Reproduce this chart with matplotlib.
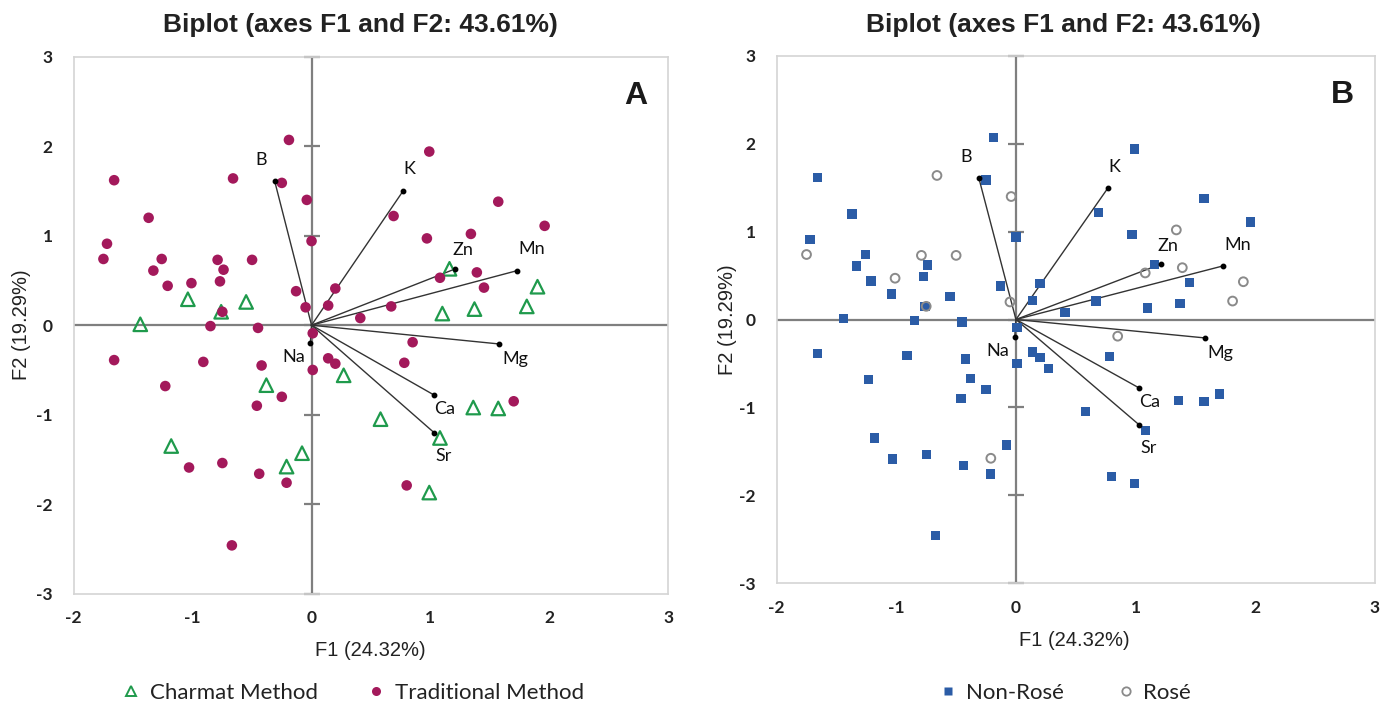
#!/usr/bin/env python3
# PCA biplot of wine element data, two panels: method (A) and rose / non-rose (B)

import numpy as np
import matplotlib
matplotlib.use('Agg')
import matplotlib.pyplot as plt
from matplotlib.lines import Line2D

plt.rcParams['axes.unicode_minus'] = False

# ---------------- data (F1, F2 scores) ----------------
# Charmat method samples
charmat_f1 = [-1.04, -0.55, -0.76, -1.44, 1.16, 1.90, 1.10, 1.37, 1.81, -0.38,
              0.27, 0.58, -1.18, -0.08, -0.21, 1.36, 1.57, 1.08, 0.99]
charmat_f2 = [0.29, 0.26, 0.15, 0.01, 0.63, 0.43, 0.13, 0.18, 0.21, -0.67,
              -0.56, -1.05, -1.35, -1.43, -1.58, -0.92, -0.93, -1.26, -1.87]
charmat_rose = [0, 0, 0, 0, 0, 1, 0, 0, 1, 0,
                0, 0, 0, 0, 1, 0, 0, 0, 0]

# Traditional method samples
trad_f1 = [-0.19, -0.66, -1.66, -0.25, -0.04, -1.37, 0.69, 0.00, -1.72, -1.75,
           -1.26, -0.79, -0.50, -1.33, -0.74, -1.21, -1.01, -0.77, -0.13, 0.20,
           -0.05, 0.14, 0.41, 0.67, -0.75, -0.85, -0.45, 0.01, 0.99, 1.57,
           1.96, 0.97, 1.34, 1.39, 1.08, 1.45, -1.66, -0.91, -0.42, 0.01,
           0.14, 0.20, -1.23, -0.25, -0.46, -1.03, -0.75, -0.44, -0.21, -0.67,
           0.85, 0.78, 1.70, 0.80]
trad_f2 = [2.07, 1.64, 1.62, 1.59, 1.40, 1.20, 1.22, 0.94, 0.91, 0.74,
           0.74, 0.73, 0.73, 0.61, 0.62, 0.44, 0.47, 0.49, 0.38, 0.41,
           0.20, 0.22, 0.08, 0.21, 0.15, -0.01, -0.03, -0.09, 1.94, 1.38,
           1.11, 0.97, 1.02, 0.59, 0.53, 0.42, -0.39, -0.41, -0.45, -0.50,
           -0.37, -0.43, -0.68, -0.80, -0.90, -1.59, -1.54, -1.66, -1.76, -2.46,
           -0.19, -0.42, -0.85, -1.79]
trad_rose = [0, 1, 0, 0, 1, 0, 0, 0, 0, 1,
             0, 1, 1, 0, 0, 0, 1, 0, 0, 0,
             1, 0, 0, 0, 1, 0, 0, 0, 0, 0,
             0, 0, 1, 1, 1, 0, 0, 0, 0, 0,
             0, 0, 0, 0, 0, 0, 0, 0, 0, 0,
             1, 0, 0, 0]

# Variable loadings
var_names = ['B', 'K', 'Zn', 'Mn', 'Mg', 'Ca', 'Sr', 'Na']
var_f1 = [-0.31, 0.77, 1.21, 1.73, 1.58, 1.03, 1.03, -0.01]
var_f2 = [1.61, 1.50, 0.63, 0.61, -0.21, -0.78, -1.20, -0.20]

title_txt = 'Biplot (axes F1 and F2: 43.61%)'
xlab = 'F1 (24.32%)'
ylab = 'F2 (19.29%)'
axis_ticks = [-3, -2, -1, 0, 1, 2, 3]

# label offsets from vector tips (placement only)
lab_off = {'B': (-0.11, 0.24), 'K': (0.05, 0.24), 'Zn': (0.06, 0.21), 'Mn': (0.12, 0.24),
           'Mg': (0.13, -0.17), 'Ca': (0.09, -0.16), 'Sr': (0.08, -0.26), 'Na': (-0.14, -0.16)}

# ---------------- styling ----------------
c_green = '#1f9a4c'
c_maroon = '#a3195b'
c_blue = '#2b5ca6'
c_grey = '#8a8a8a'
c_axis = '#7f7f7f'
c_frame = '#d4d4d4'
tick_font = 'Lato'
lab_font = 'Lato'
arial = 'Liberation Sans'

W, H = 1391, 704
fig = plt.figure(figsize=(W/100, H/100), dpi=100)


def base_axes(rect, letter):
    ax = fig.add_axes(rect)
    ax.set_xlim(-2, 3); ax.set_ylim(-3, 3)
    for s in ax.spines.values():
        s.set_color(c_frame); s.set_linewidth(1.2)
    ax.set_xticks([-2, -1, 0, 1, 2, 3])
    ax.set_yticks(axis_ticks)
    ax.tick_params(axis='x', length=0, pad=12)
    ax.tick_params(axis='y', length=0, pad=15)
    for t in ax.get_xticklabels() + ax.get_yticklabels():
        t.set_fontfamily(tick_font); t.set_fontweight('bold'); t.set_fontsize(12.5)
        t.set_color('#222222')
    # axes through origin
    ax.axhline(0, color=c_axis, lw=1.6, zorder=1)
    ax.axvline(0, color=c_axis, lw=1.6, zorder=1)
    ax.plot(np.zeros(len(axis_ticks)), axis_ticks, ls='none', marker='_', ms=12,
            mew=1.6, color=c_axis, zorder=1, clip_on=False)
    # loading vectors
    for nm, vx, vy in zip(var_names, var_f1, var_f2):
        ax.plot([0, vx], [0, vy], color='#333333', lw=1.0, zorder=2)
        ax.plot(vx, vy, 'o', color='black', ms=3.2, zorder=5)
        dx, dy = lab_off[nm]
        ax.text(vx + dx, vy + dy, nm, fontsize=13, family=lab_font, ha='center', va='center',
                color='#111111', zorder=6)
    ax.text(0.965, 0.955, letter, transform=ax.transAxes, ha='right', va='top',
            fontsize=23, fontweight='bold', family=arial, color='#1a1a1a')
    return ax


# ---------------- panel A ----------------
axA = base_axes([73.7/W, 1 - 593.7/H, 594.6/W, 537/H], 'A')
axA.scatter(charmat_f1, charmat_f2, marker='^', s=95, facecolors='none', edgecolors=c_green,
            linewidths=1.6, zorder=3)
axA.scatter(trad_f1, trad_f2, marker='o', s=58, color=c_maroon, edgecolors='none', zorder=4)

# ---------------- panel B ----------------
all_f1 = np.array(charmat_f1 + trad_f1)
all_f2 = np.array(charmat_f2 + trad_f2)
is_rose = np.array(charmat_rose + trad_rose) == 1

axB = base_axes([776.6/W, 1 - 583/H, 598.4/W, 527/H], 'B')
axB.scatter(all_f1[~is_rose], all_f2[~is_rose], marker='s', s=45, color=c_blue,
            edgecolors='none', zorder=3)
axB.scatter(all_f1[is_rose], all_f2[is_rose], marker='o', s=40, facecolors='none',
            edgecolors=c_grey, linewidths=1.4, zorder=4)

# ---------------- titles, axis labels ----------------
for cx, ty, xl_x, xl_y, yl_x, yl_y in [(360, 25, 370, 650, 22, 325), (1063, 25, 1074, 640, 728, 320)]:
    fig.text(cx/W, 1 - ty/H, title_txt, ha='center', va='center', fontsize=19,
             fontweight='bold', family=arial, color='#222222')
    fig.text(xl_x/W, 1 - xl_y/H, xlab, ha='center', va='center', fontsize=14.5,
             family=arial, color='#222222')
    fig.text(yl_x/W, 1 - yl_y/H, ylab, ha='center', va='center', fontsize=14.5,
             family=arial, color='#222222', rotation=90)

# ---------------- legends ----------------
hA = [Line2D([], [], ls='none', marker='^', ms=7, mfc='none', mec=c_green, mew=1.4),
      Line2D([], [], ls='none', marker='o', ms=6.5, color=c_maroon, mec='none')]
legA = fig.legend(hA, ['Charmat Method', 'Traditional Method'], loc='center',
                  bbox_to_anchor=(353/W, 1 - 693/H), ncol=2, frameon=False,
                  prop={'family': lab_font, 'size': 16}, handlelength=0.8,
                  handletextpad=0.45, columnspacing=2.2)
hB = [Line2D([], [], ls='none', marker='s', ms=6, color=c_blue, mec='none'),
      Line2D([], [], ls='none', marker='o', ms=6, mfc='none', mec=c_grey, mew=1.3)]
legB = fig.legend(hB, ['Non-Rosé', 'Rosé'], loc='center',
                  bbox_to_anchor=(1065/W, 1 - 693/H), ncol=2, frameon=False,
                  prop={'family': lab_font, 'size': 16}, handlelength=0.8,
                  handletextpad=0.4, columnspacing=2.4)
for lg in (legA, legB):
    for t in lg.get_texts():
        t.set_color('#222222')

fig.savefig('out.png', dpi=100)
